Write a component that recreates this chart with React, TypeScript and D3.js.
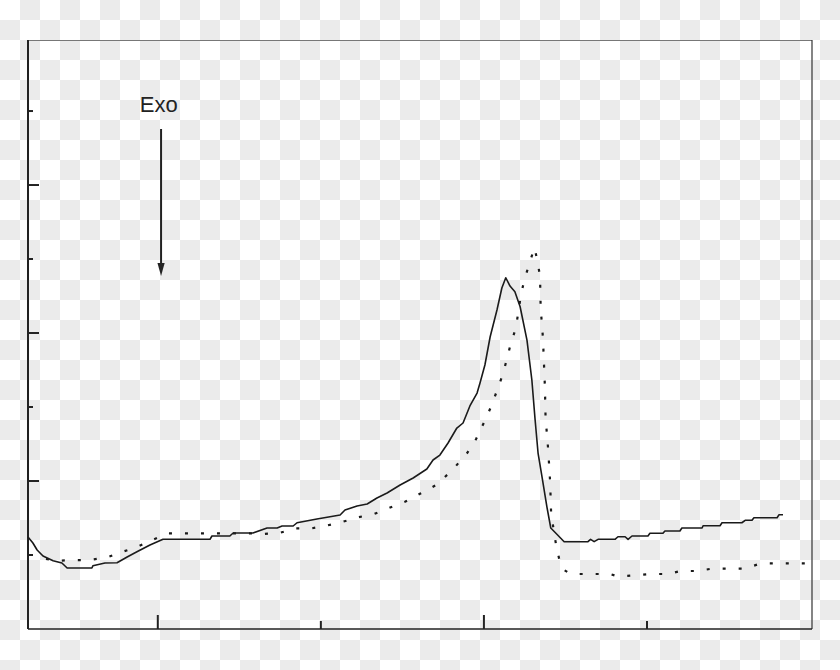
import React from "react";
import * as d3 from "d3";

// Temperature (°C) and heat-flow (arbitrary units)
const solidT = [60.2, 61.7, 63.0, 64.8, 67.9, 70.6, 72.2, 79.8, 80.1, 83.8, 87.5, 90.6, 93.6, 97.6, 101.6, 116.0, 116.6, 122.1, 123.1, 129.2, 133.5, 136.6, 138.1, 141.5, 142.7, 148.8, 152.8, 155.9, 157.4, 161.1, 164.2, 167.2, 170.3, 174.3, 178.3, 182.5, 184.4, 186.5, 189.0, 191.7, 193.6, 195.7, 197.9, 198.8, 200.3, 201.9, 204.0, 205.5, 206.7, 208.0, 209.5, 211.1, 213.2, 214.7, 215.7, 216.6, 217.8, 219.3, 220.5, 222.3, 224.6, 231.9, 232.7, 233.8, 235.0, 240.2, 241.1, 243.3, 244.2, 245.4, 250.3, 250.9, 254.9, 255.5, 260.1, 260.7, 266.9, 267.2, 272.4, 273.0, 279.1, 280.1, 282.2, 282.8, 289.9, 290.5, 291.7];
const solidV = [1.243, 1.162, 1.068, 0.986, 0.923, 0.892, 0.824, 0.824, 0.855, 0.892, 0.896, 0.973, 1.045, 1.135, 1.212, 1.212, 1.257, 1.257, 1.297, 1.297, 1.365, 1.365, 1.392, 1.392, 1.436, 1.486, 1.518, 1.541, 1.608, 1.662, 1.689, 1.770, 1.838, 1.946, 2.041, 2.162, 2.284, 2.351, 2.514, 2.716, 2.784, 3.014, 3.189, 3.324, 3.568, 3.946, 4.311, 4.608, 4.747, 4.635, 4.558, 4.355, 3.905, 3.365, 2.824, 2.378, 2.058, 1.653, 1.365, 1.284, 1.180, 1.180, 1.212, 1.180, 1.212, 1.212, 1.247, 1.247, 1.212, 1.257, 1.257, 1.293, 1.293, 1.324, 1.324, 1.365, 1.365, 1.396, 1.396, 1.436, 1.436, 1.469, 1.469, 1.504, 1.504, 1.545, 1.545];

const dotT = [65.7, 69.4, 74.3, 78.9, 84.1, 89.0, 93.6, 98.8, 103.1, 127.4, 132.3, 137.5, 142.4, 147.3, 151.6, 156.8, 161.4, 166.3, 170.9, 175.8, 180.7, 185.6, 190.5, 194.8, 197.6, 200.0, 202.1, 204.0, 205.8, 207.1, 208.2, 209.8, 211.3, 212.3, 213.8, 215.5, 216.3, 217.2, 217.4, 218.1, 218.7, 218.9, 219.7, 220.3, 220.6, 221.3, 222.1, 223.1, 224.6, 226.7, 238.7, 241.1, 250.9, 256.4, 260.4, 265.3, 269.9, 280.1, 284.7, 299.4];
const dotV = [0.946, 0.923, 0.932, 0.932, 0.964, 1.041, 1.108, 1.212, 1.293, 1.293, 1.284, 1.301, 1.361, 1.361, 1.396, 1.450, 1.509, 1.554, 1.635, 1.720, 1.834, 1.953, 2.158, 2.374, 2.568, 2.788, 2.996, 3.220, 3.442, 3.658, 3.851, 4.068, 4.500, 4.703, 4.919, 5.155, 4.996, 4.770, 4.338, 3.932, 3.274, 2.861, 2.428, 1.991, 1.572, 1.365, 1.145, 0.942, 0.797, 0.743, 0.743, 0.709, 0.743, 0.743, 0.784, 0.784, 0.815, 0.815, 0.885, 0.888];

const xMajorTicks = [100, 200];
const xMinorTicks = [150, 250];
const yMajorTicks = [2, 4, 6];
const yMinorTicks = [1, 3, 5, 7];

const annotationLabel = "Exo";
const labelPos = [94.5, 6.99];
const arrowFrom = [101.0, 6.757];
const arrowTo = [101.0, 4.77];

export default function App() {
  const W = 840, H = 670;
  const left = 28, right = 812, top = 40, bottom = 629;
  const x = d3.scaleLinear().domain([60.2, 300.6]).range([left, right]);
  const y = d3.scaleLinear().domain([0, 7.96]).range([bottom, top]);

  const line = d3.line<[number, number]>().x((d) => x(d[0])).y((d) => y(d[1]));
  const solid = solidT.map((t, i) => [t, solidV[i]] as [number, number]);
  const dotted = dotT.map((t, i) => [t, dotV[i]] as [number, number]);

  const ax = x(arrowFrom[0]);
  const ay1 = y(arrowFrom[1]);
  const ay2 = y(arrowTo[1]);

  return (
    <svg width={W} height={H} style={{ position: "absolute", left: 0, top: 0 }}>
      <defs>
        <pattern id="cb" width={40} height={40} patternUnits="userSpaceOnUse">
          <rect width={40} height={40} fill="#ffffff" />
          <rect x={20} y={0} width={20} height={20} fill="#ebebeb" />
          <rect x={0} y={20} width={20} height={20} fill="#ebebeb" />
        </pattern>
      </defs>
      <rect width={W} height={H} fill="url(#cb)" />

      {/* frame */}
      <line x1={left} y1={top + 0.5} x2={right} y2={top + 0.5} stroke="#777" strokeWidth={1.2} />
      <line x1={right} y1={top} x2={right} y2={bottom} stroke="#333" strokeWidth={1.2} />
      <line x1={left} y1={bottom} x2={right} y2={bottom} stroke="#222" strokeWidth={1.6} />
      <line x1={left} y1={top} x2={left} y2={bottom} stroke="#222" strokeWidth={2} />

      {/* ticks */}
      {xMajorTicks.map((t) => (
        <line key={"xM" + t} x1={x(t)} x2={x(t)} y1={bottom} y2={bottom - 14} stroke="#222" strokeWidth={2} />
      ))}
      {xMinorTicks.map((t) => (
        <line key={"xm" + t} x1={x(t)} x2={x(t)} y1={bottom} y2={bottom - 8} stroke="#222" strokeWidth={2} />
      ))}
      {yMajorTicks.map((t) => (
        <line key={"yM" + t} x1={left} x2={left + 11} y1={y(t)} y2={y(t)} stroke="#222" strokeWidth={2} />
      ))}
      {yMinorTicks.map((t) => (
        <line key={"ym" + t} x1={left} x2={left + 5} y1={y(t)} y2={y(t)} stroke="#222" strokeWidth={2} />
      ))}

      {/* curves */}
      <path d={line(dotted) || ""} fill="none" stroke="#1a1a1a" strokeWidth={2.2} strokeDasharray="3,13" />
      <path d={line(solid) || ""} fill="none" stroke="#1a1a1a" strokeWidth={1.6} strokeLinejoin="round" />

      {/* annotation */}
      <text x={x(labelPos[0])} y={y(labelPos[1])} fontFamily="'Liberation Sans', Arial, sans-serif" fontSize={22} fill="#222">
        {annotationLabel}
      </text>
      <line x1={ax} x2={ax} y1={ay1} y2={ay2 - 10} stroke="#222" strokeWidth={2} />
      <path d={`M${ax - 3.6},${ay2 - 13} L${ax + 3.6},${ay2 - 13} L${ax},${ay2} Z`} fill="#222" />
    </svg>
  );
}
